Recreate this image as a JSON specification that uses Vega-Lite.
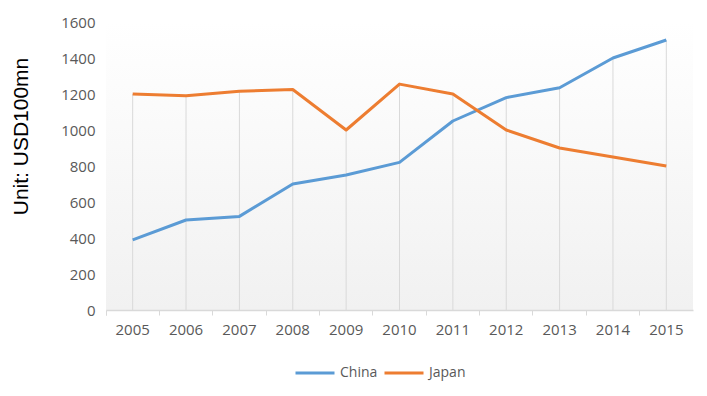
{
  "$schema": "https://vega.github.io/schema/vega-lite/v6.json",
  "width": 587,
  "height": 288,
  "autosize": {"type": "none"},
  "padding": {"left": 106, "top": 22, "right": 14, "bottom": 86},
  "background": "white",
  "config": {
    "view": {
      "stroke": null,
      "fill": {
        "gradient": "linear",
        "x1": 0, "y1": 0, "x2": 0, "y2": 1,
        "stops": [
          {"offset": 0, "color": "#ffffff"},
          {"offset": 1, "color": "#f1f1f1"}
        ]
      }
    },
    "font": "Open Sans"
  },
  "data": {
    "values": [
      {"year": "2005", "country": "China", "value": 390},
      {"year": "2006", "country": "China", "value": 500},
      {"year": "2007", "country": "China", "value": 520},
      {"year": "2008", "country": "China", "value": 700},
      {"year": "2009", "country": "China", "value": 750},
      {"year": "2010", "country": "China", "value": 820},
      {"year": "2011", "country": "China", "value": 1050},
      {"year": "2012", "country": "China", "value": 1180},
      {"year": "2013", "country": "China", "value": 1235},
      {"year": "2014", "country": "China", "value": 1400},
      {"year": "2015", "country": "China", "value": 1500},
      {"year": "2005", "country": "Japan", "value": 1200},
      {"year": "2006", "country": "Japan", "value": 1190},
      {"year": "2007", "country": "Japan", "value": 1215},
      {"year": "2008", "country": "Japan", "value": 1225},
      {"year": "2009", "country": "Japan", "value": 1000},
      {"year": "2010", "country": "Japan", "value": 1255},
      {"year": "2011", "country": "Japan", "value": 1200},
      {"year": "2012", "country": "Japan", "value": 1000},
      {"year": "2013", "country": "Japan", "value": 900},
      {"year": "2014", "country": "Japan", "value": 850},
      {"year": "2015", "country": "Japan", "value": 800}
    ]
  },
  "resolve": {"axis": {"x": "independent"}},
  "layer": [
    {
      "mark": {"type": "rule", "color": "#d9d9d9", "strokeWidth": 1},
      "encoding": {
        "x": {
          "field": "year",
          "type": "ordinal",
          "bandPosition": 0.5,
          "scale": {"type": "band", "paddingInner": 0, "paddingOuter": 0},
          "axis": {
            "orient": "bottom",
            "title": null,
            "labels": false,
            "bandPosition": 0,
            "tickExtra": true,
            "domainColor": "#d9d9d9",
            "domainWidth": 1.5,
            "tickColor": "#d9d9d9",
            "tickSize": 5,
            "grid": false
          }
        },
        "y": {
          "aggregate": "max",
          "field": "value",
          "type": "quantitative",
          "scale": {"domain": [0, 1600], "nice": false},
          "axis": {
            "title": "Unit: USD100mn",
            "titleFont": "Liberation Sans",
            "titleFontSize": 21,
            "titleFontWeight": "normal",
            "titleColor": "#000000",
            "titleAngle": -90,
            "titleX": -85,
            "titleY": 114,
            "titleAlign": "center",
            "titleBaseline": "middle",
            "values": [0, 200, 400, 600, 800, 1000, 1200, 1400, 1600],
            "format": "d",
            "labelOverlap": false,
            "labelFont": "Open Sans",
            "labelFontSize": 15,
            "labelColor": "#595959",
            "labelPadding": 11,
            "domain": false,
            "ticks": false,
            "grid": false
          }
        },
        "y2": {"datum": 0}
      }
    },
    {
      "mark": {"type": "line", "strokeWidth": 3, "strokeJoin": "round"},
      "encoding": {
        "x": {
          "field": "year",
          "type": "ordinal",
          "bandPosition": 0.5,
          "scale": {"type": "band", "paddingInner": 0, "paddingOuter": 0},
          "axis": {
            "orient": "bottom",
            "title": null,
            "labelAngle": 0,
            "labelFont": "Open Sans",
            "labelFontSize": 15,
            "labelColor": "#595959",
            "labelPadding": 12,
            "domain": false,
            "ticks": false,
            "grid": false
          }
        },
        "y": {
          "field": "value",
          "type": "quantitative",
          "scale": {"domain": [0, 1600], "nice": false},
          "axis": {
            "title": "Unit: USD100mn",
            "titleFont": "Liberation Sans",
            "titleFontSize": 21,
            "titleFontWeight": "normal",
            "titleColor": "#000000",
            "titleAngle": -90,
            "titleX": -85,
            "titleY": 114,
            "titleAlign": "center",
            "titleBaseline": "middle",
            "values": [0, 200, 400, 600, 800, 1000, 1200, 1400, 1600],
            "format": "d",
            "labelOverlap": false,
            "labelFont": "Open Sans",
            "labelFontSize": 15,
            "labelColor": "#595959",
            "labelPadding": 11,
            "domain": false,
            "ticks": false,
            "grid": false
          }
        },
        "color": {
          "field": "country",
          "type": "nominal",
          "scale": {"domain": ["China", "Japan"], "range": ["#5b9bd5", "#ed7d31"]},
          "legend": {
            "title": null,
            "orient": "none",
            "direction": "horizontal",
            "legendX": 188,
            "legendY": 330,
            "symbolType": "stroke",
            "symbolSize": 1521,
            "symbolStrokeWidth": 3,
            "labelFont": "Open Sans",
            "labelFontSize": 14,
            "labelColor": "#595959",
            "labelOffset": 4,
            "columnPadding": 0
          }
        }
      }
    }
  ]
}
